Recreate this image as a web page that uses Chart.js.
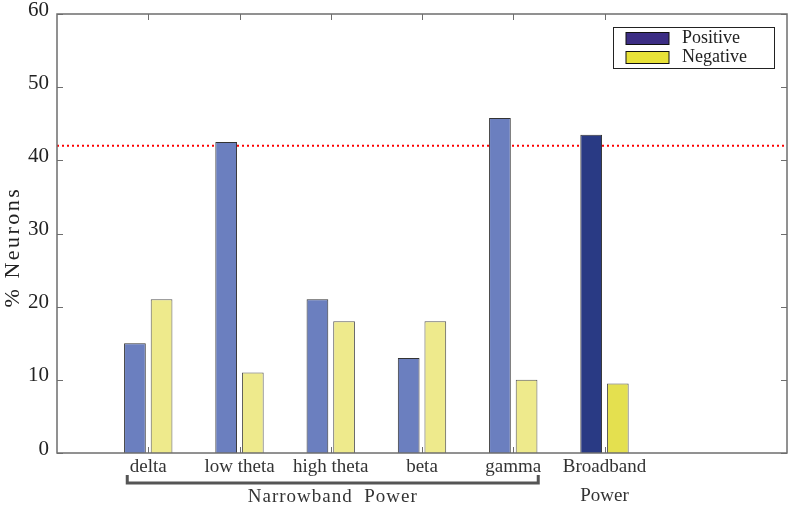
<!DOCTYPE html>
<html>
<head>
<meta charset="utf-8">
<script src="https://cdn.jsdelivr.net/npm/chart.js@4/dist/chart.umd.min.js"></script>
<style>
    html, body { margin: 0; padding: 0; background: #fff; }
    #wrap { width: 790px; height: 508px; }
</style>
</head>
<body>
<div id="wrap"><canvas id="neuronChart" width="790" height="508"></canvas></div>
<script>
(function () {
    'use strict';

    // chart data
    const categories = ['', 'delta', 'low theta', 'high theta', 'beta', 'gamma', ['Broadband', 'Power'], '', ''];
    const positiveValues = [null, 15, 42.5, 21, 13, 45.8, 43.5, null, null];
    const negativeValues = [null, 21, 11, 18, 18, 10, 9.5, null, null];
    const thresholdValue = 42;
    const yTicks = [0, 10, 20, 30, 40, 50, 60];
    const narrowbandRange = [1, 5];

    const serif = '"Liberation Serif", "Times New Roman", serif';
    const axisColor = '#6e6e6e';

    const posColors = categories.map((c, i) => i === 6 ? '#293a84' : '#6b7fbf');
    const negColors = categories.map((c, i) => i === 6 ? '#e4e04f' : '#eeea8c');

    const framePlugin = {
        id: 'frame',
        beforeDatasetsDraw(chart) {
            const { ctx, chartArea: a, scales } = chart;
            ctx.save();
            ctx.strokeStyle = axisColor;
            ctx.lineWidth = 1;
            yTicks.forEach(v => {
                const y = Math.round(scales.y.getPixelForValue(v)) + 0.5;
                ctx.beginPath();
                ctx.moveTo(a.left, y); ctx.lineTo(a.left + 6, y);
                ctx.moveTo(a.right, y); ctx.lineTo(a.right - 6, y);
                ctx.stroke();
            });
            for (let i = 1; i <= 6; i++) {
                const x = Math.round(scales.x.getPixelForValue(i)) + 0.5;
                ctx.beginPath();
                ctx.moveTo(x, a.top); ctx.lineTo(x, a.top + 6);
                ctx.moveTo(x, a.bottom); ctx.lineTo(x, a.bottom - 6);
                ctx.stroke();
            }
            ctx.restore();
        },
        afterDraw(chart) {
            const { ctx, chartArea: a, scales } = chart;
            ctx.save();

            // axes box
            ctx.strokeStyle = axisColor;
            ctx.lineWidth = 1.5;
            ctx.strokeRect(a.left, a.top, a.right - a.left, a.bottom - a.top);

            // y title
            ctx.fillStyle = '#222';
            ctx.font = '22px ' + serif;
            ctx.letterSpacing = '2.5px';
            ctx.textAlign = 'center';
            ctx.textBaseline = 'middle';
            ctx.translate(13, 247);
            ctx.rotate(-Math.PI / 2);
            ctx.fillText('% Neurons', 0, 0);
            ctx.setTransform(1, 0, 0, 1, 0, 0);

            // narrowband bracket
            const x0 = scales.x.getPixelForValue(narrowbandRange[0]) - 22;
            const x1 = scales.x.getPixelForValue(narrowbandRange[1]) + 26;
            const yb = 483;
            ctx.strokeStyle = '#555';
            ctx.lineWidth = 3;
            ctx.beginPath();
            ctx.moveTo(x0 + 1, yb - 8);
            ctx.lineTo(x0 + 1, yb);
            ctx.lineTo(x1 - 1, yb);
            ctx.lineTo(x1 - 1, yb - 8);
            ctx.stroke();
            ctx.fillStyle = '#333';
            ctx.font = '19px ' + serif;
            ctx.letterSpacing = '1px';
            ctx.fillText('Narrowband  Power', (x0 + x1) / 2, 497);

            // legend
            ctx.letterSpacing = '0px';
            ctx.fillStyle = '#fff';
            ctx.fillRect(613, 27, 161, 41);
            ctx.strokeStyle = '#222';
            ctx.lineWidth = 1;
            ctx.strokeRect(613.5, 27.5, 161, 41);
            const entries = [
                { label: chart.data.datasets[0].label, color: '#3c2d84', y: 32.5 },
                { label: chart.data.datasets[1].label, color: '#e8e238', y: 51.5 }
            ];
            ctx.font = '18px ' + serif;
            ctx.textAlign = 'left';
            entries.forEach(e => {
                ctx.fillStyle = e.color;
                ctx.fillRect(626, e.y, 43, 12);
                ctx.strokeStyle = '#111';
                ctx.strokeRect(626, e.y, 43, 12);
                ctx.fillStyle = '#222';
                ctx.fillText(e.label, 682, e.y + 6);
            });
            ctx.restore();
        }
    };

    function initializeChart() {
        const ctx = document.getElementById('neuronChart');
        if (!ctx || typeof Chart === 'undefined') return;

        new Chart(ctx, {
            type: 'bar',
            data: {
                labels: categories,
                datasets: [
                    {
                        label: 'Positive',
                        data: positiveValues,
                        backgroundColor: posColors,
                        borderColor: '#333',
                        borderWidth: 1,
                        categoryPercentage: 0.584,
                        barPercentage: 0.815,
                        order: 1
                    },
                    {
                        label: 'Negative',
                        data: negativeValues,
                        backgroundColor: negColors,
                        borderColor: '#555',
                        borderWidth: 1,
                        categoryPercentage: 0.584,
                        barPercentage: 0.815,
                        order: 2
                    },
                    {
                        type: 'line',
                        label: 'threshold',
                        data: categories.map(() => thresholdValue),
                        borderColor: '#ff0000',
                        borderWidth: 2,
                        borderDash: [2, 3],
                        pointRadius: 0,
                        fill: false,
                        order: 10
                    }
                ]
            },
            options: {
                responsive: false,
                animation: false,
                layout: { padding: { top: 14, right: 3, left: 0, bottom: 0 } },
                plugins: {
                    legend: { display: false },
                    tooltip: { enabled: false }
                },
                scales: {
                    x: {
                        offset: false,
                        grid: { display: false, drawTicks: false },
                        border: { display: false },
                        ticks: {
                            autoSkip: false,
                            maxRotation: 0,
                            padding: 0,
                            color: '#333',
                            font: { family: serif, size: 19, lineHeight: '29px' }
                        },
                        afterFit(scale) {
                            scale.height = 55;
                            scale.paddingLeft = 0;
                            scale.paddingRight = 0;
                        }
                    },
                    y: {
                        min: 0,
                        max: 60,
                        grid: { display: false, drawTicks: false },
                        border: { display: false },
                        ticks: {
                            stepSize: 10,
                            padding: 8,
                            labelOffset: -4,
                            color: '#222',
                            font: { family: serif, size: 21 }
                        },
                        afterFit(scale) {
                            scale.width = 57;
                            scale.paddingTop = 0;
                            scale.paddingBottom = 0;
                        }
                    }
                }
            },
            plugins: [framePlugin]
        });
    }

    if (document.readyState === 'loading') {
        document.addEventListener('DOMContentLoaded', initializeChart);
    } else {
        initializeChart();
    }
})();
</script>
</body>
</html>
